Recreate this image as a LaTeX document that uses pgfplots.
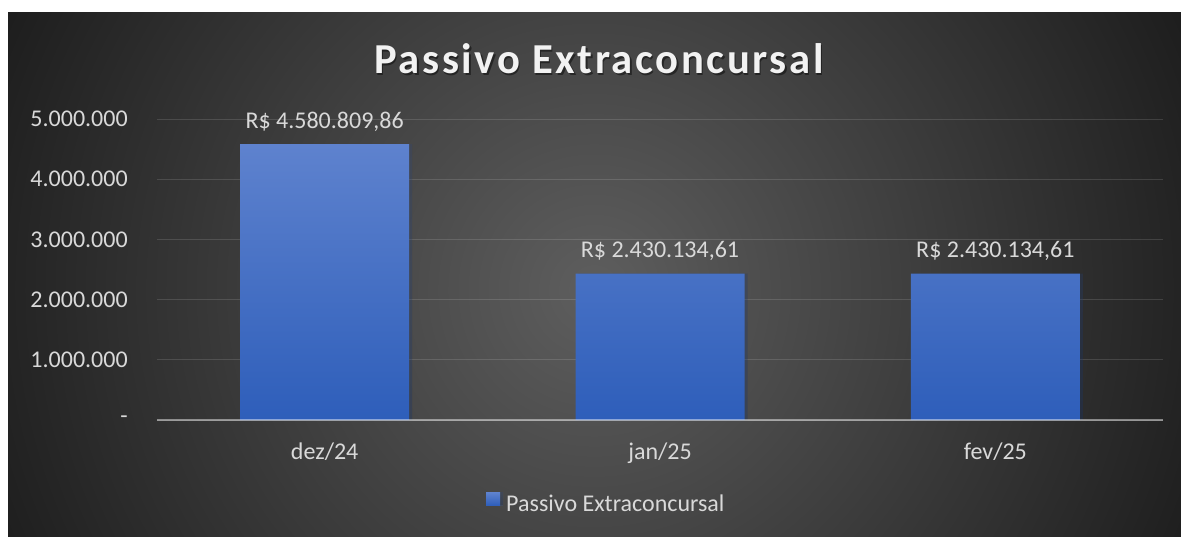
\documentclass[border=0pt]{standalone}
\usepackage{fontspec}
\setmainfont{Carlito}
\usepackage{pgfplots}
\pgfplotsset{compat=1.18}

\definecolor{bgin}{RGB}{94,94,94}
\definecolor{bgout}{RGB}{30,30,30}
\definecolor{bartop}{RGB}{94,130,206}
\definecolor{barbot}{RGB}{46,94,186}
\definecolor{lbl}{RGB}{217,217,217}
\definecolor{ttl}{RGB}{242,242,242}
\pgfdeclareradialshading{bgshade}{\pgfpoint{0bp}{0bp}}{color(0bp)=(bgin); color(27.4bp)=(bgout); color(50bp)=(bgout)}

\begin{document}
\begin{tikzpicture}[x=1pt,y=1pt]
\useasboundingbox (0,0) rectangle (885.75,402);
\fill[white] (0,0) rectangle (885.75,402);
\begin{scope}
\clip (6,0) rectangle (885.75,392.25);
\shade[shading=bgshade] (4.5,-256.5) rectangle (886.5,625.5);
\end{scope}

\node[anchor=base, text=black, opacity=0.45, inner sep=0pt] at (450.25,345.5)
  {\fontsize{32}{38}\selectfont\bfseries\addfontfeature{LetterSpace=6}Passivo Extraconcursal};
\node[anchor=base, text=ttl, inner sep=0pt] at (449.25,346.5)
  {\fontsize{32}{38}\selectfont\bfseries\addfontfeature{LetterSpace=6}Passivo Extraconcursal};

\begin{axis}[
  at={(117.75pt,87pt)}, anchor=south west,
  scale only axis, width=754.5pt, height=225.75pt,
  xmin=-0.5, xmax=2.5, ymin=0, ymax=5000000,
  clip=false,
  xtick={0,1,2}, xticklabels={dez/24,jan/25,fev/25},
  ytick={0,1000000,2000000,3000000,4000000,5000000},
  yticklabels={-,1.000.000,2.000.000,3.000.000,4.000.000,5.000.000},
  scaled y ticks=false,
  ymajorgrids,
  major grid style={white, opacity=0.13, line width=0.75pt},
  axis line style={draw=none},
  major tick length=0pt,
  tick label style={font=\fontsize{18}{21.6}\selectfont, text=lbl},
  yticklabel style={anchor=east, inner sep=0pt, xshift=-21.75pt},
  xticklabel style={anchor=base, inner sep=0pt, yshift=-29.25pt},
  legend style={at={(axis description cs:0.327,-0.2757)}, anchor=west,
    draw=none, fill=none, font=\fontsize{18}{21.6}\selectfont, text=lbl,
    inner sep=0pt, column sep=4.5pt, nodes={inner sep=0pt}},
  legend image code/.code={\shade[top color=bartop,bottom color=barbot] (0pt,-1pt) rectangle (10.5pt,8.75pt);},
]
\addplot[ybar, bar width=126.75pt, bar shift=0pt, draw=none,
  top color=bartop, bottom color=barbot,
  preaction={fill=black, opacity=0.18, transform canvas={xshift=2.25pt}},
  nodes near coords, point meta=explicit symbolic,
  nodes near coords style={anchor=base, yshift=12pt, text=lbl, font=\fontsize{18}{21.6}\selectfont, inner sep=0pt}]
  coordinates {(0,4580809.86) [R\$ 4.580.809,86] (1,2430134.61) [R\$ 2.430.134,61] (2,2430134.61) [R\$ 2.430.134,61]};
\addlegendentry{Passivo Extraconcursal}
\draw[white, opacity=0.45, line width=1.5pt] (axis cs:-0.5,0) -- (axis cs:2.5,0);
\end{axis}
\end{tikzpicture}
\end{document}
